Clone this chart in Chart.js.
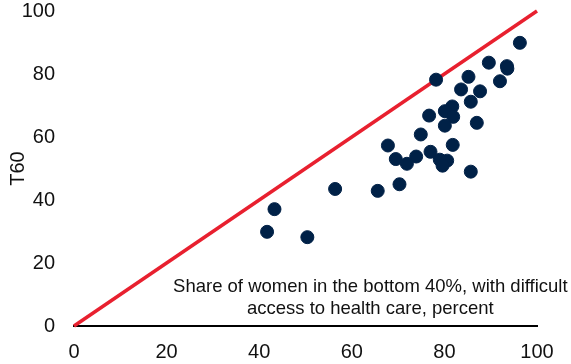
<!DOCTYPE html>
<html>
<head>
<meta charset="utf-8">
<script src="https://cdn.jsdelivr.net/npm/chart.js@4.4.1/dist/chart.umd.min.js"></script>
<style>
  html, body { margin: 0; padding: 0; background: #fff; }
  #wrap { width: 571px; height: 364px; position: relative; }
</style>
</head>
<body>
<div id="wrap"><canvas id="chart"></canvas></div>
<script>
// share of women in bottom 40% with difficult access (x) vs T60 (y)
const accessShare = [96.3, 89.6, 93.5, 93.6, 85.2, 78.2, 92.0, 83.6, 87.7, 85.7, 81.7,
  80.1, 81.9, 76.7, 80.1, 87.0, 74.9, 67.8, 81.8, 77.0, 69.5, 73.9, 71.9, 79.0, 80.6,
  79.6, 85.7, 70.3, 65.6, 56.4, 43.3, 41.7, 50.4];
const t60 = [89.9, 83.6, 82.5, 81.7, 79.1, 78.2, 77.7, 75.1, 74.5, 71.2, 69.7,
  68.2, 66.4, 66.8, 63.6, 64.5, 60.8, 57.3, 57.5, 55.3, 53.0, 53.8, 51.5, 52.8, 52.5,
  50.9, 49.0, 45.0, 42.9, 43.5, 37.1, 29.9, 28.2];
const parityLine = [0, 100];
const axisTicks = [0, 20, 40, 60, 80, 100];
const noteLines = ['Share of women in the bottom 40%, with difficult', 'access to health care, percent'];

const FONT = "'Liberation Sans', Arial, sans-serif";

const points = accessShare.map((x, i) => ({ x: x, y: t60[i] }));
const diagonal = parityLine.map(v => ({ x: v, y: v }));

// two-line note drawn inside the plot, above the x axis
const notePlugin = {
  id: 'note',
  afterDatasetsDraw(chart) {
    const ctx = chart.ctx;
    const area = chart.chartArea;
    ctx.save();
    ctx.font = '18.5px ' + FONT;
    ctx.fillStyle = '#111';
    ctx.textAlign = 'center';
    ctx.textBaseline = 'alphabetic';
    const cx = area.left + (area.right - area.left) * 0.64;
    noteLines.forEach((line, i) => {
      ctx.fillText(line, cx, area.bottom - 34 + i * 21.7);
    });
    ctx.restore();
  }
};

new Chart(document.getElementById('chart'), {
  type: 'scatter',
  data: {
    datasets: [
      {
        type: 'scatter',
        data: points,
        backgroundColor: '#002147',
        borderColor: '#002147',
        pointRadius: 6.5,
        pointHoverRadius: 6.5,
        order: 1
      },
      {
        type: 'line',
        data: diagonal,
        borderColor: '#e8202f',
        borderWidth: 3.5,
        pointRadius: 0,
        fill: false,
        clip: false,
        order: 2
      }
    ]
  },
  options: {
    responsive: true,
    maintainAspectRatio: false,
    animation: false,
    layout: { padding: { top: 0, right: 34, bottom: 0, left: 0 } },
    plugins: { legend: { display: false }, tooltip: { enabled: false } },
    scales: {
      x: {
        type: 'linear',
        min: 0,
        max: 100,
        afterBuildTicks: (scale) => { scale.ticks = axisTicks.map(v => ({ value: v })); },
        afterFit: (scale) => { scale.height = 38; },
        grid: { display: false, drawTicks: false },
        border: { display: true, color: '#000', width: 2 },
        ticks: { color: '#111', font: { family: FONT, size: 20 }, padding: 14, maxRotation: 0 }
      },
      y: {
        type: 'linear',
        min: 0,
        max: 100,
        afterBuildTicks: (scale) => { scale.ticks = axisTicks.map(v => ({ value: v })); },
        afterFit: (scale) => { scale.width = 74; scale.paddingTop = 11; },
        grid: { display: false, drawTicks: false },
        border: { display: false },
        title: {
          display: true,
          text: 'T60',
          color: '#111',
          font: { family: FONT, size: 20 },
          padding: { top: 6, bottom: 0 }
        },
        ticks: { color: '#111', font: { family: FONT, size: 20 }, padding: 19 }
      }
    }
  },
  plugins: [notePlugin]
});
</script>
</body>
</html>
